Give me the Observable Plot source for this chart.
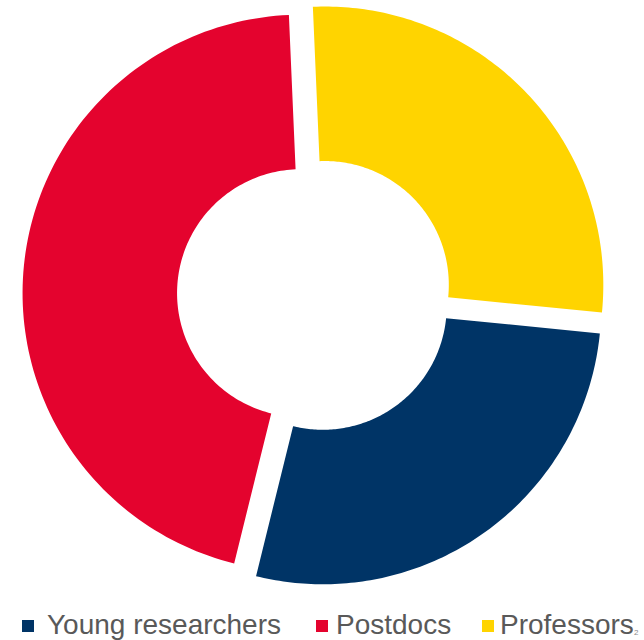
<!DOCTYPE html>
<html>
<head>
<meta charset="utf-8">
<script src="https://cdn.jsdelivr.net/npm/d3@7"></script>
<script src="https://cdn.jsdelivr.net/npm/@observablehq/plot@0.6"></script>
<style>
  html, body { margin: 0; padding: 0; background: #fff; }
  #wrap { position: relative; width: 644px; height: 640px; overflow: hidden; }
  #chart svg { display: block; }
  .lg { position: absolute; font-family: "Liberation Sans", Arial, sans-serif; font-size: 28px; line-height: 28px; color: #595959; white-space: nowrap; }
  .sw { position: absolute; width: 12px; height: 12px; }
  #pg { position: absolute; left: 634px; top: 629px; font-family: "Liberation Sans", Arial, sans-serif; font-size: 8px; line-height: 8px; color: #8a8a8a; }
</style>
</head>
<body>
<div id="wrap">
  <div id="chart"></div>
  <div id="legend"></div>
  <div id="pg">2</div>
</div>
<script>
// ---- data ----
const categories = ["Young researchers", "Postdocs", "Professors"];
const values = [30, 50, 30];
const colors = ["#003466", "#E4032E", "#FFD400"];
const firstSliceAngleDeg = 95.7;   // rotation of first slice (clockwise from 12 o'clock)
const holeRatio = 0.445;          // inner radius / outer radius
const explosion = 0.05;           // slice offset as fraction of outer radius

// ---- build slice outlines from data ----
const start = firstSliceAngleDeg * Math.PI / 180;
const arcs = d3.pie().sort(null).value(d => d)
  .startAngle(start).endAngle(start + 2 * Math.PI)(values);

const rows = [];
arcs.forEach((a, i) => {
  const cat = categories[i];
  const mid = (a.startAngle + a.endAngle) / 2;
  const ox = explosion * Math.sin(mid), oy = explosion * Math.cos(mid);
  const n = 120;
  for (let k = 0; k <= n; k++) {
    const t = a.startAngle + (a.endAngle - a.startAngle) * k / n;
    rows.push({cat, x: ox + Math.sin(t), y: oy + Math.cos(t)});
  }
  for (let k = n; k >= 0; k--) {
    const t = a.startAngle + (a.endAngle - a.startAngle) * k / n;
    rows.push({cat, x: ox + holeRatio * Math.sin(t), y: oy + holeRatio * Math.cos(t)});
  }
});

const chart = Plot.plot({
  width: 644,
  height: 606,
  marginLeft: 35.9,
  marginRight: 51.3,
  marginTop: 15.6,
  marginBottom: 33.6,
  x: {domain: [-1, 1], axis: null},
  y: {domain: [-1, 1], axis: null},
  color: {domain: categories, range: colors},
  marks: [
    Plot.line(rows, {x: "x", y: "y", z: "cat", fill: "cat", stroke: "none", curve: "linear-closed"})
  ]
});
document.getElementById("chart").appendChild(chart);

// ---- legend (HTML below the SVG) ----
const legendSwatchX = [22, 316, 482];
const legendTextX = [47, 336, 500];
const legend = document.getElementById("legend");
categories.forEach((c, i) => {
  const sw = document.createElement("div");
  sw.className = "sw";
  sw.style.left = legendSwatchX[i] + "px";
  sw.style.top = "620px";
  sw.style.background = colors[i];
  legend.appendChild(sw);
  const tx = document.createElement("div");
  tx.className = "lg";
  tx.style.left = legendTextX[i] + "px";
  tx.style.top = "611px";
  tx.textContent = c;
  legend.appendChild(tx);
});
</script>
</body>
</html>
